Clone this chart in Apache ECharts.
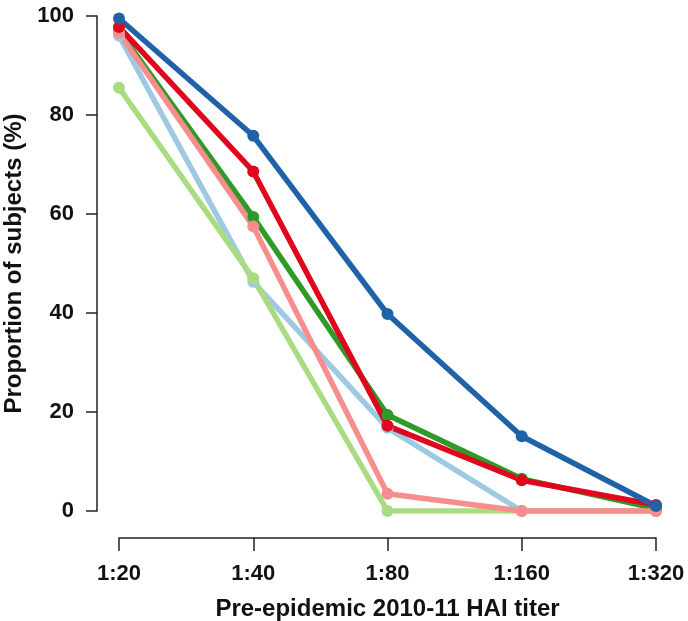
<!DOCTYPE html>
<html><head><meta charset="utf-8">
<script src="https://cdn.jsdelivr.net/npm/echarts@6/dist/echarts.min.js"></script>
<style>html,body{margin:0;padding:0;background:#fff}#c{width:688px;height:621px}</style>
</head><body><div id="c"></div>
<script>
const categories = ['1:20', '1:40', '1:80', '1:160', '1:320'];
const yTicks = [0, 20, 40, 60, 80, 100];
const lightBlue = [96.0, 46.3, 16.8, 0, 0];
const lightGreen = [85.5, 47.0, 0, 0, 0];
const green = [97.0, 59.4, 19.4, 6.5, 0.5];
const pink = [96.6, 57.5, 3.5, 0, 0];
const red = [97.8, 68.6, 17.2, 6.2, 1.2];
const darkBlue = [99.5, 75.8, 39.8, 15.1, 1.0];

const seriesDefs = [
  {name: 'A', data: lightBlue, color: '#9ec9e2'},
  {name: 'B', data: lightGreen, color: '#a9dc80'},
  {name: 'C', data: green, color: '#2e9a2a'},
  {name: 'D', data: pink, color: '#f78d8c'},
  {name: 'E', data: red, color: '#e0061d'},
  {name: 'F', data: darkBlue, color: '#1f62a8'}
];

const font = 'Liberation Sans, Arial, sans-serif';
const chart = echarts.init(document.getElementById('c'), null, {renderer: 'canvas'});
chart.setOption({
  animation: false,
  backgroundColor: '#fff',
  grid: {left: 119, right: 32, top: 16, bottom: 110, containLabel: false, outerBoundsMode: 'none'},
  xAxis: {
    type: 'category', data: categories, boundaryGap: false,
    offset: 27,
    name: 'Pre-epidemic 2010-11 HAI titer', nameLocation: 'middle', nameGap: 59,
    nameTextStyle: {fontFamily: font, fontSize: 24, fontWeight: 'bold', color: '#111'},
    axisLine: {onZero: false, lineStyle: {color: '#222', width: 1.5}},
    axisTick: {show: true, inside: false, length: 13, alignWithLabel: true, lineStyle: {color: '#222', width: 1.5}},
    axisLabel: {fontFamily: font, fontSize: 22, fontWeight: 'bold', color: '#111', margin: 25},
    splitLine: {show: false}
  },
  yAxis: {
    type: 'value', min: 0, max: 100, interval: 20,
    offset: 22,
    name: 'Proportion of subjects (%)', nameLocation: 'middle', nameGap: 57, nameRotate: 90,
    nameTextStyle: {fontFamily: font, fontSize: 24, fontWeight: 'bold', color: '#111'},
    axisLine: {show: true, onZero: false, lineStyle: {color: '#222', width: 1.5}},
    axisTick: {show: true, inside: false, length: 11, lineStyle: {color: '#222', width: 1.5}},
    axisLabel: {fontFamily: font, fontSize: 22, fontWeight: 'bold', color: '#111', margin: 23,
      formatter: v => yTicks.includes(v) ? String(v) : ''},
    splitLine: {show: false}
  },
  series: seriesDefs.map(s => ({
    name: s.name, type: 'line', data: s.data,
    symbol: 'circle', symbolSize: 12, showSymbol: true,
    lineStyle: {color: s.color, width: 5.5},
    itemStyle: {color: s.color},
    emphasis: {disabled: true}
  }))
});
</script></body></html>
